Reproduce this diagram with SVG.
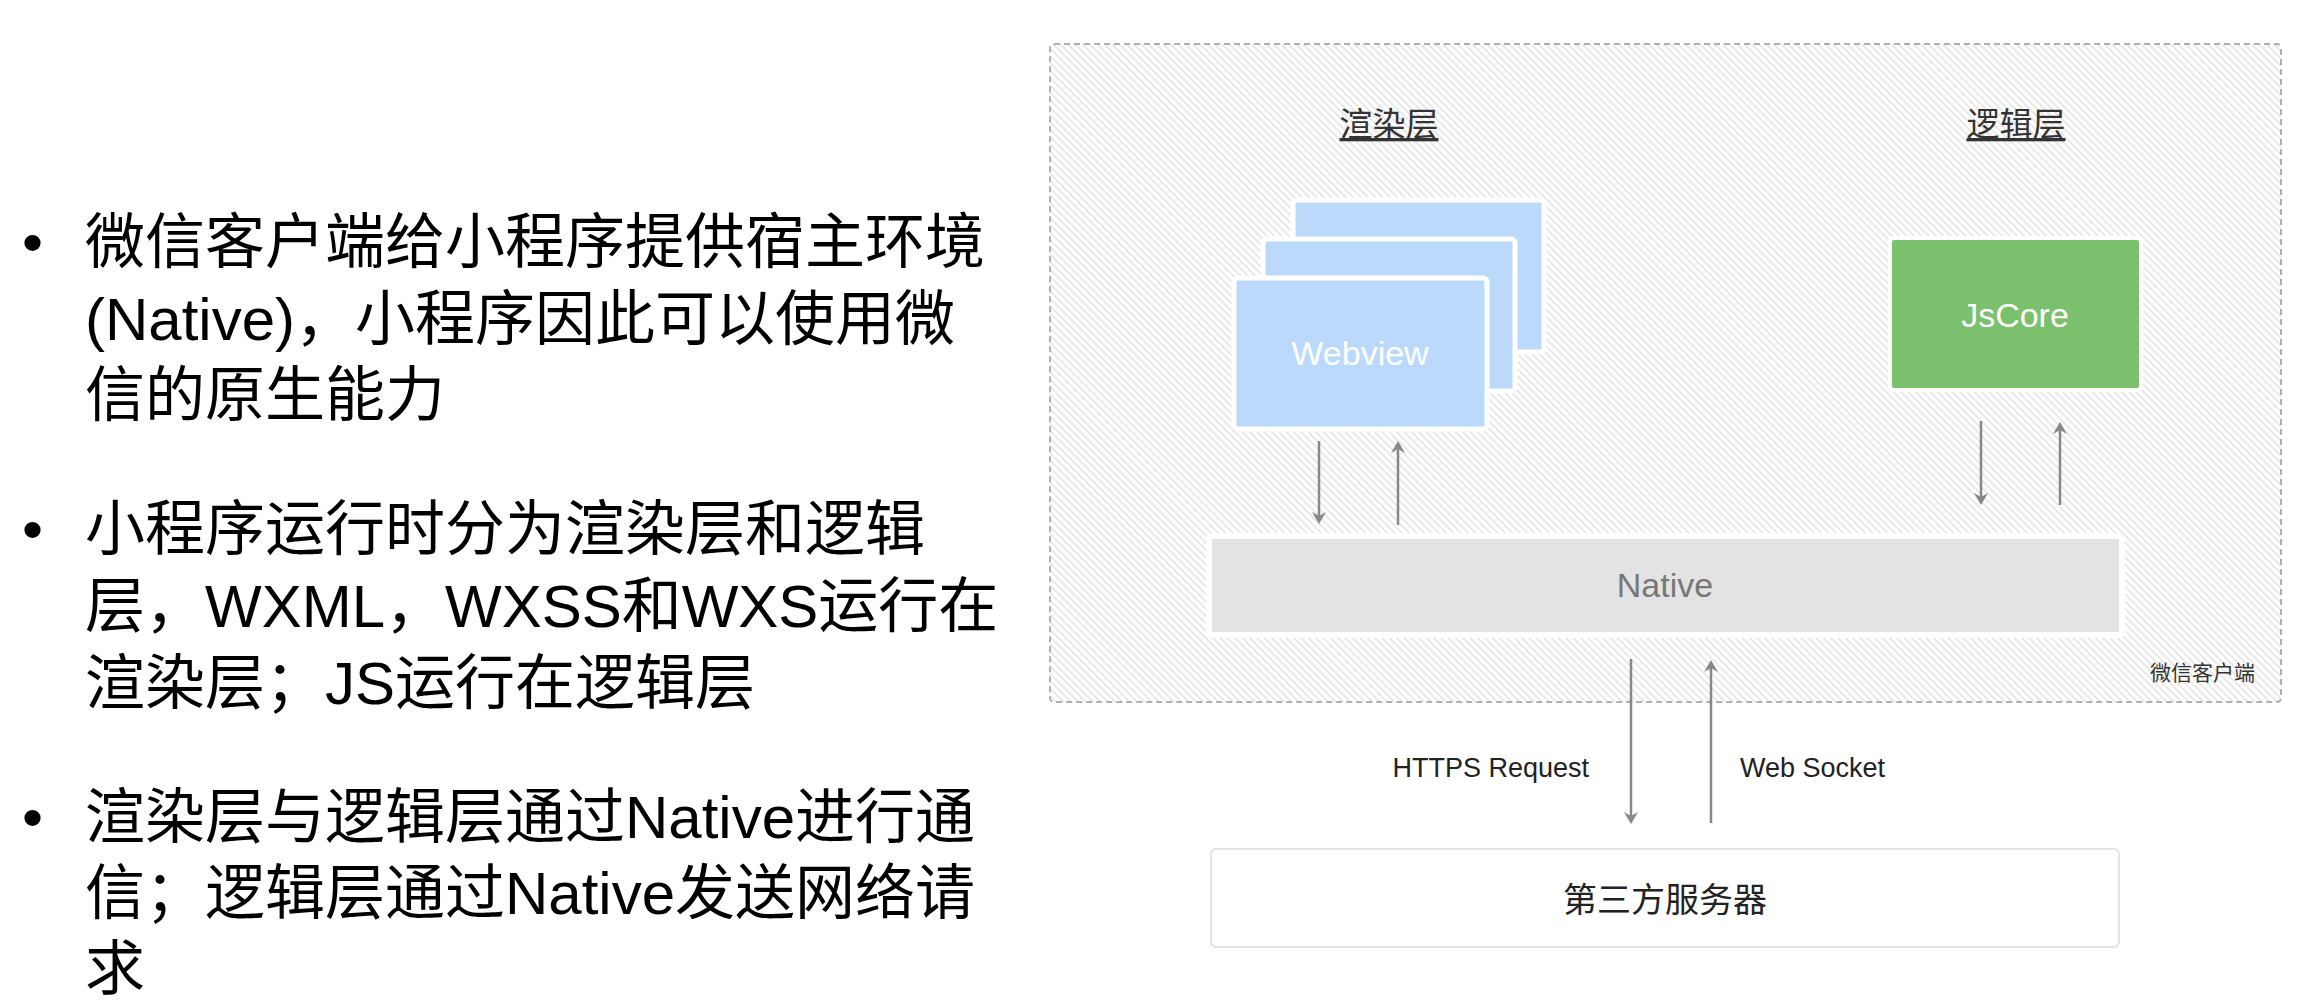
<svg xmlns="http://www.w3.org/2000/svg" width="2310" height="1000" viewBox="0 0 2310 1000">
  <style>
    .cjk { font-family: "Liberation Sans", "Noto Sans CJK SC", sans-serif; }
    .bullet { font-size: 60px; fill: #000; }
    .hdr { font-size: 33px; fill: #333; text-decoration: underline; text-anchor: middle; }
    .card { fill: #BBDAFB; stroke: #fff; stroke-width: 5; }
    .lbl { font-size: 34px; text-anchor: middle; }
    .small { font-size: 27px; fill: #222; }
    .conn { stroke: #888; stroke-width: 2.5; fill: none; marker-end: url(#arr); }
  </style>
  <defs>
    <pattern id="hatch" width="5.2" height="5.2" patternUnits="userSpaceOnUse" patternTransform="rotate(-45)">
      <rect width="5.2" height="5.2" fill="#fff"/>
      <line x1="1" y1="0" x2="1" y2="5.2" stroke="#e4e4e4" stroke-width="1.6"/>
    </pattern>
    <marker id="arr" viewBox="0 0 12 14" refX="6" refY="7" markerWidth="12" markerHeight="14" markerUnits="userSpaceOnUse" orient="auto">
      <path d="M12,7 L0,0 L4,7 L0,14 Z" fill="#888"/>
    </marker>
  </defs>
  <rect width="2310" height="1000" fill="#fff"/>

  <g id="bullets" class="cjk bullet">
    <text x="22" y="263">•</text>
    <text x="85" y="263">微信客户端给小程序提供宿主环境</text>
    <text x="85" y="340">(Native)，小程序因此可以使用微</text>
    <text x="85" y="416">信的原生能力</text>
    <text x="22" y="550">•</text>
    <text x="85" y="550">小程序运行时分为渲染层和逻辑</text>
    <text x="85" y="627">层，WXML，WXSS和WXS运行在</text>
    <text x="85" y="704">渲染层；JS运行在逻辑层</text>
    <text x="22" y="838">•</text>
    <text x="85" y="838">渲染层与逻辑层通过Native进行通</text>
    <text x="85" y="914">信；逻辑层通过Native发送网络请</text>
    <text x="85" y="990">求</text>
  </g>

  <g id="client">
    <rect x="1050" y="44" width="1231" height="658" rx="4" fill="url(#hatch)" stroke="#b0b0b0" stroke-width="2" stroke-dasharray="6 4"/>
    <text class="cjk" x="2255" y="680" font-size="21" fill="#333" text-anchor="end">微信客户端</text>
  </g>

  <g id="render-title">
    <text class="cjk hdr" x="1389" y="136">渲染层</text>
  </g>
  <g id="logic-title">
    <text class="cjk hdr" x="2016" y="136">逻辑层</text>
  </g>

  <g id="webview">
    <rect class="card" x="1293" y="200" width="251" height="152" rx="4"/>
    <rect class="card" x="1263" y="239" width="252" height="152" rx="4"/>
    <rect class="card" x="1234" y="278" width="253" height="151" rx="4"/>
    <text class="cjk lbl" x="1360" y="365" fill="#fff">Webview</text>
  </g>

  <g id="jscore">
    <rect x="1890" y="238" width="251" height="152" rx="4" fill="#7BC16D" stroke="#fff" stroke-width="4"/>
    <text class="cjk lbl" x="2015" y="327" fill="#fff">JsCore</text>
  </g>

  <g id="native">
    <rect x="1209" y="536" width="913" height="99" rx="4" fill="#E3E3E3" stroke="#fff" stroke-width="6"/>
    <text class="cjk lbl" x="1665" y="597" fill="#777">Native</text>
  </g>

  <g id="server">
    <rect x="1211" y="849" width="908" height="98" rx="5" fill="#fff" stroke="#dcdcdc" stroke-width="1.5"/>
    <text class="cjk lbl" x="1665" y="912" font-size="33" fill="#222">第三方服务器</text>
  </g>

  <g id="connectors">
    <line class="conn" x1="1319" y1="441" x2="1319" y2="518"/>
    <line class="conn" x1="1398" y1="525" x2="1398" y2="447"/>
    <line class="conn" x1="1981" y1="421" x2="1981" y2="499"/>
    <line class="conn" x1="2060" y1="505" x2="2060" y2="428"/>
    <line class="conn" x1="1631" y1="659" x2="1631" y2="818"/>
    <line class="conn" x1="1711" y1="823" x2="1711" y2="666"/>
    <text class="cjk small" x="1589" y="777" text-anchor="end">HTTPS Request</text>
    <text class="cjk small" x="1740" y="777">Web Socket</text>
  </g>
</svg>
